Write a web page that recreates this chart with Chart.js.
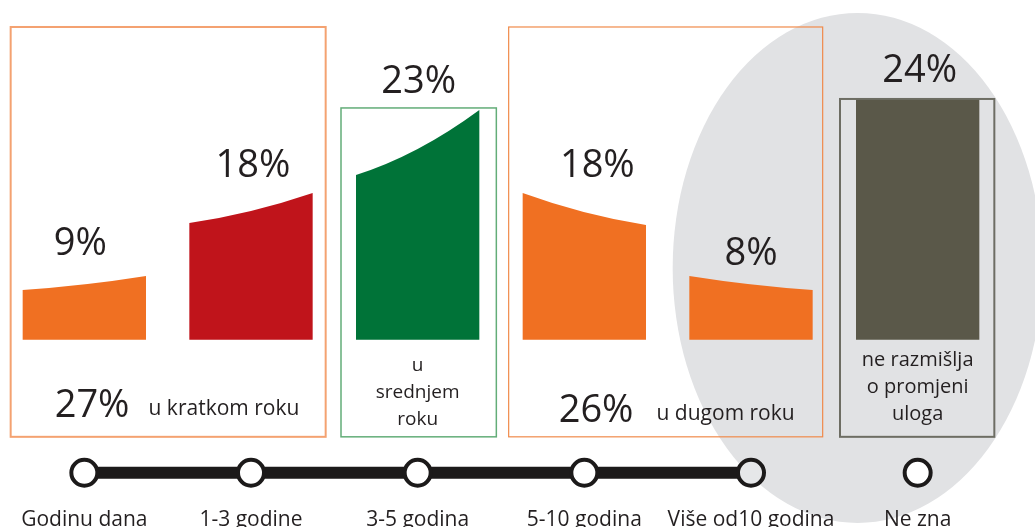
<!DOCTYPE html>
<html><head><meta charset="utf-8">
<style>
html,body{margin:0;padding:0;overflow:hidden;background:#fff}
#wrap{position:absolute;left:0;top:0;width:1035px;height:533px}
</style>
<script src="https://cdn.jsdelivr.net/npm/chart.js@4.4.1/dist/chart.umd.min.js"></script>
</head><body><div id="wrap"><canvas id="c"></canvas></div>
<script>
// ---- data ----
const categories = ['Godinu dana', '1-3 godine', '3-5 godina', '5-10 godina', 'Više od10 godina', 'Ne zna'];
const shares = [9, 18, 23, 18, 8, 24];                 // % shown above each shape
const shapeLeft = [50, 117, 165, 147, 64, 241];        // shape height at left edge
const shapeRight = [64, 147, 230, 115, 50, 241];       // shape height at right edge
const barColors = ['#f07022', '#c0141b', '#007338', '#f07022', '#f07022', '#5a5849'];
const groupFirst = [0, 2, 3, 5];
const groupLast = [1, 2, 4, 5];
const groupTotals = [27, null, 26, null];
const groupLabels = [['u kratkom roku'], ['u', 'srednjem', 'roku'], ['u dugom roku'], ['ne razmišlja', 'o promjeni', 'uloga']];
const timeline = [0, 0, 0, 0, 0, 0];
const timelineFill = ['#ffffff', '#ffffff', '#ffffff', '#ffffff', '#e6e7e9', '#ffffff'];

const TXT = '#231f20';
const FONT = '"Open Sans", "Noto Sans", sans-serif';

const infographic = {
  id: 'infographic',
  beforeDraw(chart) {
    const ctx = chart.ctx, xs = chart.scales.x, ys = chart.scales.y;
    // grey ellipse behind the last two categories
    const x4 = xs.getPixelForValue(4), x5 = xs.getPixelForValue(5);
    ctx.save();
    ctx.fillStyle = '#e1e2e4';
    ctx.beginPath();
    ctx.ellipse(x4 + 0.64 * (x5 - x4), ys.getPixelForValue(72), 185, 255, 0, 0, Math.PI * 2);
    ctx.fill();
    ctx.restore();
  },
  beforeDatasetDraw(chart, args) {
    if (args.index !== 0) return;
    const ctx = chart.ctx, ys = chart.scales.y;
    const meta = args.meta;
    const base = ys.getPixelForValue(0);
    ctx.save();
    meta.data.forEach((el, i) => {
      const w = el.width, xl = el.x - w / 2, xr = el.x + w / 2;
      const yl = ys.getPixelForValue(shapeLeft[i]);
      const yr = ys.getPixelForValue(shapeRight[i]);
      const cy = Math.max(yl, yr) - 0.3 * Math.abs(yl - yr);
      ctx.fillStyle = barColors[i];
      ctx.beginPath();
      ctx.moveTo(xl, base);
      ctx.lineTo(xl, yl);
      ctx.quadraticCurveTo(el.x, cy, xr, yr);
      ctx.lineTo(xr, base);
      ctx.closePath();
      ctx.fill();
    });
    ctx.restore();
    return false;
  },
  afterDatasetsDraw(chart) {
    const ctx = chart.ctx, ys = chart.scales.y;
    const bars = chart.getDatasetMeta(0).data;
    ctx.save();
    // group boxes
    const pads = [[12, 13], [15, 17], [14, 10], [16, 15]];
    const tops = [313, 232, 313, 241];
    const widths = [2, 1.5, 1.2, 2];
    const strokes = ['#f4a271', '#63ad78', '#f08a4a', '#6d6d63'];
    groupFirst.forEach((f, g) => {
      const l = bars[f].x - bars[f].width / 2 - pads[g][0];
      const r = bars[groupLast[g]].x + bars[groupLast[g]].width / 2 + pads[g][1];
      const t = ys.getPixelForValue(tops[g]);
      const b = ys.getPixelForValue(-97);
      ctx.strokeStyle = strokes[g];
      ctx.lineWidth = widths[g];
      ctx.strokeRect(l, t, r - l, b - t);
    });
    // percentage labels above shapes
    const dx = [-4, 2, 1, 13, 0, 2];
    const gap = [21, 16, 17, 16, 11, 17];
    ctx.fillStyle = TXT;
    ctx.textAlign = 'center';
    ctx.textBaseline = 'alphabetic';
    ctx.font = '38px ' + FONT;
    bars.forEach((el, i) => {
      const top = ys.getPixelForValue(Math.max(shapeLeft[i], shapeRight[i]));
      ctx.fillText(shares[i] + '%', el.x + dx[i], top - gap[i]);
    });
    // group totals and captions
    const totalDx = [44, null, 50, null];
    const totalBase = [417, null, 422, null];
    const capGap = [19, null, 23, null];
    groupFirst.forEach((f, g) => {
      const l = bars[f].x - bars[f].width / 2 - pads[g][0];
      if (groupTotals[g] !== null) {
        ctx.textAlign = 'left';
        ctx.font = '38px ' + FONT;
        const s = groupTotals[g] + '%';
        ctx.fillText(s, l + totalDx[g], totalBase[g]);
        const w = ctx.measureText(s).width;
        ctx.font = '21px ' + FONT;
        ctx.fillText(groupLabels[g][0], l + totalDx[g] + w + capGap[g], totalBase[g] - 2);
      } else {
        ctx.textAlign = 'center';
        ctx.font = (g === 1 ? 19 : 20) + 'px ' + FONT;
        const first = g === 1 ? 371 : 366;
        groupLabels[g].forEach((line, k) => {
          ctx.fillText(line, bars[f].x, first + k * 27);
        });
      }
    });
    ctx.restore();
  }
};

new Chart(document.getElementById('c'), {
  data: {
    labels: categories,
    datasets: [
      {
        type: 'bar',
        data: categories.map((_, i) => Math.max(shapeLeft[i], shapeRight[i])),
        backgroundColor: barColors,
        barPercentage: 0.74,
        categoryPercentage: 1,
        yAxisID: 'y'
      },
      {
        type: 'line',
        data: timeline,
        yAxisID: 'yT',
        borderColor: '#1c1a1a',
        borderWidth: 12,
        segment: { borderColor: c => c.p1DataIndex === 5 ? 'rgba(0,0,0,0)' : '#1c1a1a' },
        pointRadius: 13,
        pointBorderWidth: 4,
        pointBorderColor: '#1c1a1a',
        pointBackgroundColor: timelineFill,
        tension: 0
      }
    ]
  },
  options: {
    responsive: true,
    maintainAspectRatio: false,
    animation: false,
    events: [],
    layout: { autoPadding: false, padding: { left: 1, right: 34, top: 0, bottom: 0 } },
    plugins: { legend: { display: false }, tooltip: { enabled: false } },
    scales: {
      x: {
        type: 'category',
        offset: true,
        grid: { display: false, drawTicks: false },
        border: { display: false },
        ticks: { padding: 0, maxRotation: 0, autoSkip: false, color: TXT, font: { family: FONT, size: 21 } },
        afterFit: s => { s.paddingLeft = 0; s.paddingRight = 0; }
      },
      y: { display: false, min: -168, max: 340 },
      yT: { display: false, min: -6.9, max: 93.1 }
    }
  },
  plugins: [infographic]
});
</script>
</body></html>
